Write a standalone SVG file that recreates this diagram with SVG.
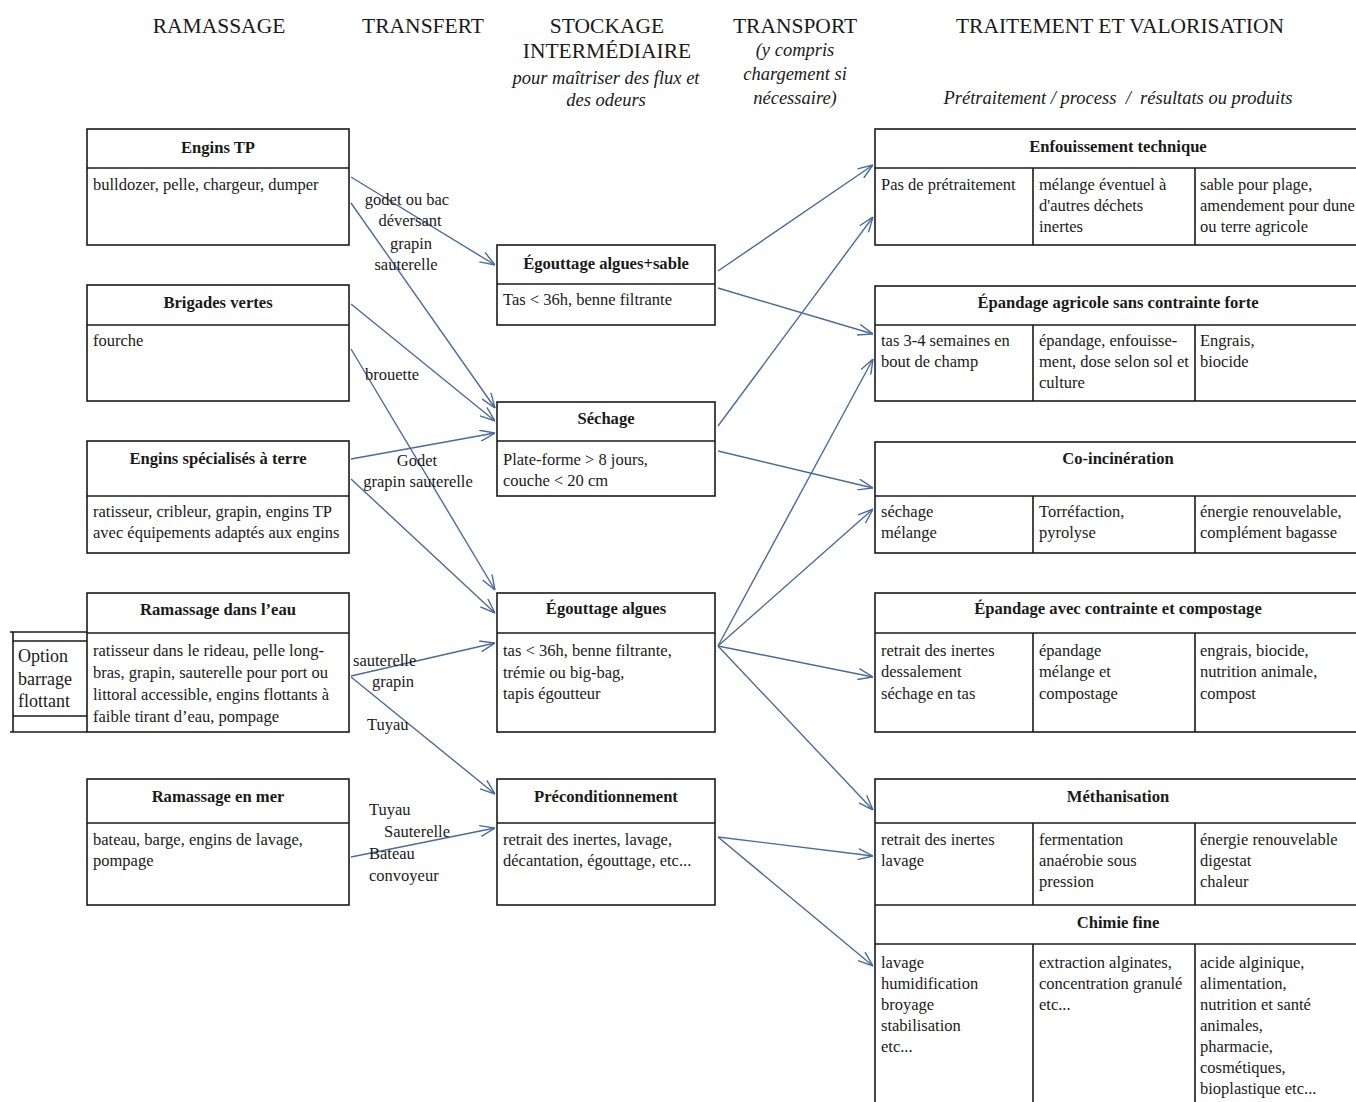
<svg xmlns="http://www.w3.org/2000/svg" width="1356" height="1102" viewBox="0 0 1356 1102">
<style>
text{font-family:"Liberation Serif","Times New Roman",serif;fill:#1a1a1a}
.box{fill:#fff;stroke:#1a1a1a;stroke-width:1.6}
.ln{stroke:#1a1a1a;stroke-width:1.6;fill:none}
.t{font-size:16.6px;font-weight:bold;text-anchor:middle}
.b{font-size:16.5px}
.h{font-size:21.5px;text-anchor:middle}
.i{font-size:18.5px;font-style:italic;text-anchor:middle}
.l{font-size:16.5px}
.o{font-size:18px}
.c{stroke:#4a6b9c;stroke-width:1.4;fill:none;marker-end:url(#ah)}
</style>
<defs>
<marker id="ah" markerUnits="userSpaceOnUse" viewBox="0 0 16 12" refX="16" refY="6" markerWidth="16" markerHeight="12" orient="auto">
<path d="M1,0.5 L16,6 L1,11.5" fill="none" stroke="#4a6b9c" stroke-width="1.4"/>
</marker>
</defs>
<rect width="1356" height="1102" fill="#fff"/>

<g id="headers">
<text class="h" x="219" y="33">RAMASSAGE</text>
<text class="h" x="423" y="33">TRANSFERT</text>
<text class="h" x="607" y="33">STOCKAGE</text>
<text class="h" x="607" y="58">INTERMÉDIAIRE</text>
<text class="i" x="606" y="84">pour maîtriser des flux et</text>
<text class="i" x="606" y="106">des odeurs</text>
<text class="h" x="795" y="33">TRANSPORT</text>
<text class="i" x="795" y="56">(y compris</text>
<text class="i" x="795" y="80">chargement si</text>
<text class="i" x="795" y="104">nécessaire)</text>
<text class="h" x="1120" y="33">TRAITEMENT ET VALORISATION</text>
<text class="i" x="1118" y="104" xml:space="preserve">Prétraitement / process  /  résultats ou produits</text>
</g>

<g id="engins-tp">
<rect class="box" x="87" y="129" width="262" height="116"/>
<line class="ln" x1="87" y1="168" x2="349" y2="168"/>
<text class="t" x="218" y="153">Engins TP</text>
<text class="b" x="93" y="190">bulldozer, pelle, chargeur, dumper</text>
</g>
<g id="brigades-vertes">
<rect class="box" x="87" y="285" width="262" height="116"/>
<line class="ln" x1="87" y1="325" x2="349" y2="325"/>
<text class="t" x="218" y="308">Brigades vertes</text>
<text class="b" x="93" y="346">fourche</text>
</g>
<g id="engins-specialises">
<rect class="box" x="87" y="441" width="262" height="112"/>
<line class="ln" x1="87" y1="496" x2="349" y2="496"/>
<text class="t" x="218" y="464">Engins spécialisés à terre</text>
<text class="b" x="93" y="517">ratisseur, cribleur, grapin, engins TP</text>
<text class="b" x="93" y="538">avec équipements adaptés aux engins</text>
</g>
<g id="ramassage-eau">
<rect class="box" x="87" y="593" width="262" height="139"/>
<line class="ln" x1="87" y1="633" x2="349" y2="633"/>
<text class="t" x="218" y="615">Ramassage dans l’eau</text>
<text class="b" x="93" y="656">ratisseur dans le rideau, pelle long-</text>
<text class="b" x="93" y="678">bras, grapin, sauterelle pour port ou</text>
<text class="b" x="93" y="700">littoral accessible, engins flottants à</text>
<text class="b" x="93" y="722">faible tirant d’eau, pompage</text>
</g>
<g id="option-barrage">
<line class="ln" x1="10" y1="632" x2="87" y2="632"/>
<line class="ln" x1="13" y1="641" x2="87" y2="641"/>
<line class="ln" x1="13" y1="716" x2="87" y2="716"/>
<line class="ln" x1="10" y1="732" x2="87" y2="732"/>
<line class="ln" x1="13" y1="632" x2="13" y2="732"/>
<text class="o" x="18" y="662">Option</text>
<text class="o" x="18" y="685">barrage</text>
<text class="o" x="18" y="707">flottant</text>
</g>
<g id="ramassage-mer">
<rect class="box" x="87" y="779" width="262" height="126"/>
<line class="ln" x1="87" y1="823" x2="349" y2="823"/>
<text class="t" x="218" y="802">Ramassage en mer</text>
<text class="b" x="93" y="845">bateau, barge, engins de lavage,</text>
<text class="b" x="93" y="866">pompage</text>
</g>

<g id="egouttage-sable">
<rect class="box" x="497" y="245" width="218" height="80"/>
<line class="ln" x1="497" y1="284" x2="715" y2="284"/>
<text class="t" x="606" y="269">Égouttage algues+sable</text>
<text class="b" x="503" y="305">Tas &lt; 36h, benne filtrante</text>
</g>
<g id="sechage">
<rect class="box" x="497" y="402" width="218" height="94"/>
<line class="ln" x1="497" y1="441" x2="715" y2="441"/>
<text class="t" x="606" y="424">Séchage</text>
<text class="b" x="503" y="465">Plate-forme &gt; 8 jours,</text>
<text class="b" x="503" y="486">couche &lt; 20 cm</text>
</g>
<g id="egouttage-algues">
<rect class="box" x="497" y="593" width="218" height="139"/>
<line class="ln" x1="497" y1="633" x2="715" y2="633"/>
<text class="t" x="606" y="614">Égouttage algues</text>
<text class="b" x="503" y="656">tas &lt; 36h, benne filtrante,</text>
<text class="b" x="503" y="678">trémie ou big-bag,</text>
<text class="b" x="503" y="699">tapis égoutteur</text>
</g>
<g id="preconditionnement">
<rect class="box" x="497" y="779" width="218" height="126"/>
<line class="ln" x1="497" y1="823" x2="715" y2="823"/>
<text class="t" x="606" y="802">Préconditionnement</text>
<text class="b" x="503" y="845">retrait des inertes, lavage,</text>
<text class="b" x="503" y="866">décantation, égouttage, etc...</text>
</g>

<g id="enfouissement">
<rect class="box" x="875" y="129" width="487" height="116"/>
<line class="ln" x1="875" y1="168" x2="1362" y2="168"/>
<line class="ln" x1="1033" y1="168" x2="1033" y2="245"/>
<line class="ln" x1="1195" y1="168" x2="1195" y2="245"/>
<text class="t" x="1118" y="152">Enfouissement technique</text>
<text class="b" x="881" y="190">Pas de prétraitement</text>
<text class="b" x="1039" y="190">mélange éventuel à</text>
<text class="b" x="1039" y="211">d'autres déchets</text>
<text class="b" x="1039" y="232">inertes</text>
<text class="b" x="1200" y="190">sable pour plage,</text>
<text class="b" x="1200" y="211">amendement pour dune</text>
<text class="b" x="1200" y="232">ou terre agricole</text>
</g>
<g id="epandage-agricole">
<rect class="box" x="875" y="286" width="487" height="115"/>
<line class="ln" x1="875" y1="325" x2="1362" y2="325"/>
<line class="ln" x1="1033" y1="325" x2="1033" y2="401"/>
<line class="ln" x1="1195" y1="325" x2="1195" y2="401"/>
<text class="t" x="1118" y="308">Épandage agricole sans contrainte forte</text>
<text class="b" x="881" y="346">tas 3-4 semaines en</text>
<text class="b" x="881" y="367">bout de champ</text>
<text class="b" x="1039" y="346">épandage, enfouisse-</text>
<text class="b" x="1039" y="367">ment, dose selon sol et</text>
<text class="b" x="1039" y="388">culture</text>
<text class="b" x="1200" y="346">Engrais,</text>
<text class="b" x="1200" y="367">biocide</text>
</g>
<g id="co-incineration">
<rect class="box" x="875" y="442" width="487" height="111"/>
<line class="ln" x1="875" y1="496" x2="1362" y2="496"/>
<line class="ln" x1="1033" y1="496" x2="1033" y2="553"/>
<line class="ln" x1="1195" y1="496" x2="1195" y2="553"/>
<text class="t" x="1118" y="464">Co-incinération</text>
<text class="b" x="881" y="517">séchage</text>
<text class="b" x="881" y="538">mélange</text>
<text class="b" x="1039" y="517">Torréfaction,</text>
<text class="b" x="1039" y="538">pyrolyse</text>
<text class="b" x="1200" y="517">énergie renouvelable,</text>
<text class="b" x="1200" y="538">complément bagasse</text>
</g>
<g id="epandage-compostage">
<rect class="box" x="875" y="593" width="487" height="139"/>
<line class="ln" x1="875" y1="633" x2="1362" y2="633"/>
<line class="ln" x1="1033" y1="633" x2="1033" y2="732"/>
<line class="ln" x1="1195" y1="633" x2="1195" y2="732"/>
<text class="t" x="1118" y="614">Épandage avec contrainte et compostage</text>
<text class="b" x="881" y="656">retrait des inertes</text>
<text class="b" x="881" y="677">dessalement</text>
<text class="b" x="881" y="699">séchage en tas</text>
<text class="b" x="1039" y="656">épandage</text>
<text class="b" x="1039" y="677">mélange et</text>
<text class="b" x="1039" y="699">compostage</text>
<text class="b" x="1200" y="656">engrais, biocide,</text>
<text class="b" x="1200" y="677">nutrition animale,</text>
<text class="b" x="1200" y="699">compost</text>
</g>
<g id="methanisation-chimie">
<rect class="box" x="875" y="779" width="487" height="340"/>
<line class="ln" x1="875" y1="823" x2="1362" y2="823"/>
<line class="ln" x1="875" y1="905" x2="1362" y2="905"/>
<line class="ln" x1="875" y1="944" x2="1362" y2="944"/>
<line class="ln" x1="1033" y1="823" x2="1033" y2="905"/>
<line class="ln" x1="1195" y1="823" x2="1195" y2="905"/>
<line class="ln" x1="1033" y1="944" x2="1033" y2="1119"/>
<line class="ln" x1="1195" y1="944" x2="1195" y2="1119"/>
<text class="t" x="1118" y="802">Méthanisation</text>
<text class="b" x="881" y="845">retrait des inertes</text>
<text class="b" x="881" y="866">lavage</text>
<text class="b" x="1039" y="845">fermentation</text>
<text class="b" x="1039" y="866">anaérobie sous</text>
<text class="b" x="1039" y="887">pression</text>
<text class="b" x="1200" y="845">énergie renouvelable</text>
<text class="b" x="1200" y="866">digestat</text>
<text class="b" x="1200" y="887">chaleur</text>
<text class="t" x="1118" y="928">Chimie fine</text>
<text class="b" x="881" y="968">lavage</text>
<text class="b" x="881" y="989">humidification</text>
<text class="b" x="881" y="1010">broyage</text>
<text class="b" x="881" y="1031">stabilisation</text>
<text class="b" x="881" y="1052">etc...</text>
<text class="b" x="1039" y="968">extraction alginates,</text>
<text class="b" x="1039" y="989">concentration granulé</text>
<text class="b" x="1039" y="1010">etc...</text>
<text class="b" x="1200" y="968">acide alginique,</text>
<text class="b" x="1200" y="989">alimentation,</text>
<text class="b" x="1200" y="1010">nutrition et santé</text>
<text class="b" x="1200" y="1031">animales,</text>
<text class="b" x="1200" y="1052">pharmacie,</text>
<text class="b" x="1200" y="1073">cosmétiques,</text>
<text class="b" x="1200" y="1094">bioplastique etc...</text>
</g>

<g id="connectors">
<line class="c" x1="351" y1="177" x2="495" y2="265"/>
<line class="c" x1="351" y1="203" x2="495" y2="408"/>
<line class="c" x1="351" y1="304" x2="495" y2="421"/>
<line class="c" x1="351" y1="349" x2="495" y2="590"/>
<line class="c" x1="351" y1="459" x2="495" y2="433"/>
<line class="c" x1="351" y1="479" x2="495" y2="613"/>
<line class="c" x1="351" y1="676" x2="495" y2="643"/>
<line class="c" x1="351" y1="677" x2="495" y2="794"/>
<line class="c" x1="351" y1="857" x2="495" y2="828"/>
<line class="c" x1="718" y1="271" x2="873" y2="165"/>
<line class="c" x1="718" y1="288" x2="873" y2="334"/>
<line class="c" x1="718" y1="426" x2="873" y2="217"/>
<line class="c" x1="718" y1="451" x2="873" y2="488"/>
<line class="c" x1="718" y1="646" x2="873" y2="359"/>
<line class="c" x1="718" y1="646" x2="873" y2="509"/>
<line class="c" x1="718" y1="646" x2="873" y2="677"/>
<line class="c" x1="718" y1="646" x2="873" y2="810"/>
<line class="c" x1="718" y1="837" x2="873" y2="856"/>
<line class="c" x1="718" y1="837" x2="873" y2="966"/>
</g>

<g id="transfer-labels">
<text class="l" x="407" y="205" text-anchor="middle">godet ou bac</text>
<text class="l" x="410" y="226" text-anchor="middle">déversant</text>
<text class="l" x="411" y="249" text-anchor="middle">grapin</text>
<text class="l" x="406" y="270" text-anchor="middle">sauterelle</text>
<text class="l" x="365" y="380">brouette</text>
<text class="l" x="417" y="466" text-anchor="middle">Godet</text>
<text class="l" x="418" y="487" text-anchor="middle">grapin sauterelle</text>
<text class="l" x="353" y="666">sauterelle</text>
<text class="l" x="393" y="687" text-anchor="middle">grapin</text>
<text class="l" x="367" y="730">Tuyau</text>
<text class="l" x="369" y="815">Tuyau</text>
<text class="l" x="384" y="837">Sauterelle</text>
<text class="l" x="369" y="859">Bateau</text>
<text class="l" x="369" y="881">convoyeur</text>
</g>
</svg>
